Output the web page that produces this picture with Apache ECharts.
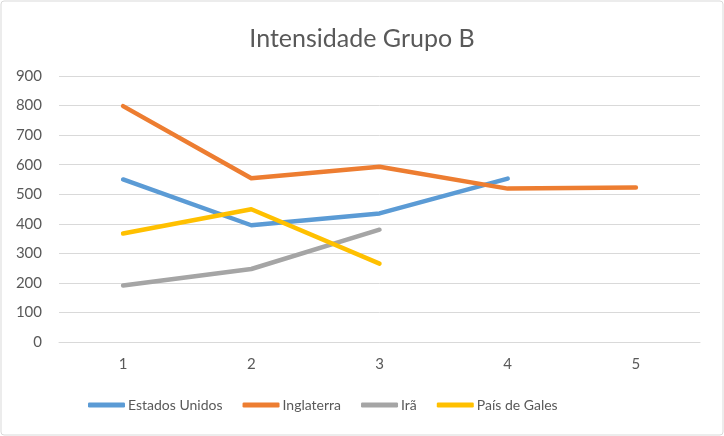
<!DOCTYPE html>
<html>
<head>
<meta charset="utf-8">
<script src="https://cdn.jsdelivr.net/npm/echarts@6/dist/echarts.min.js"></script>
<style>html,body{margin:0;padding:0;background:#fff}#c{width:724px;height:436px}</style>
</head>
<body>
<div id="c"></div>
<script>
const categories = ['1', '2', '3', '4', '5'];
const estadosUnidos = [550, 395, 435, 553, null];
const inglaterra = [798, 554, 593, 519, 523];
const ira = [191, 247, 380, null, null];
const paisDeGales = [367, 449, 265, null, null];
const seriesNames = ['Estados Unidos', 'Inglaterra', 'Irã', 'País de Gales'];
const colors = ['#5B9BD5', '#ED7D31', '#A5A5A5', '#FFC000'];
const values = [estadosUnidos, inglaterra, ira, paisDeGales];

const chart = echarts.init(document.getElementById('c'));
const font = 'Lato, "Open Sans", sans-serif';
chart.setOption({
  animation: false,
  color: colors,
  graphic: [{
    type: 'rect', left: 0.5, top: 0.5, silent: true, z: -10,
    shape: { width: 722, height: 434, r: 3 },
    style: { fill: '#fff', stroke: '#d9d9d9', lineWidth: 1 }
  }],
  title: {
    text: 'Intensidade Grupo B', left: 'center', top: 21,
    textStyle: { fontFamily: font, fontSize: 25, fontWeight: 'normal', color: '#595959' }
  },
  grid: { left: 59, right: 24, top: 76, bottom: 94, containLabel: false },
  xAxis: {
    type: 'category', data: categories, boundaryGap: true,
    axisLine: { show: true, lineStyle: { color: '#d9d9d9', width: 1 } },
    axisTick: { show: false },
    axisLabel: { color: '#595959', fontFamily: font, fontSize: 15, margin: 15 }
  },
  yAxis: {
    type: 'value', min: 0, max: 900, interval: 100,
    axisLine: { show: false }, axisTick: { show: false },
    splitLine: { lineStyle: { color: '#d9d9d9', width: 1 } },
    axisLabel: { color: '#595959', fontFamily: font, fontSize: 15, margin: 17 }
  },
  legend: {
    bottom: 19, left: 83, icon: 'roundRect', itemWidth: 37, itemHeight: 5, itemGap: 20,
    textStyle: { color: '#595959', fontFamily: font, fontSize: 14, padding: [0, 0, 0, -2] },
    data: seriesNames
  },
  series: seriesNames.map((n, i) => ({
    name: n, type: 'line', data: values[i], showSymbol: false, symbol: 'none',
    lineStyle: { width: 4.5, color: colors[i], cap: 'round', join: 'round' },
    itemStyle: { color: colors[i] }
  }))
});
</script>
</body>
</html>
